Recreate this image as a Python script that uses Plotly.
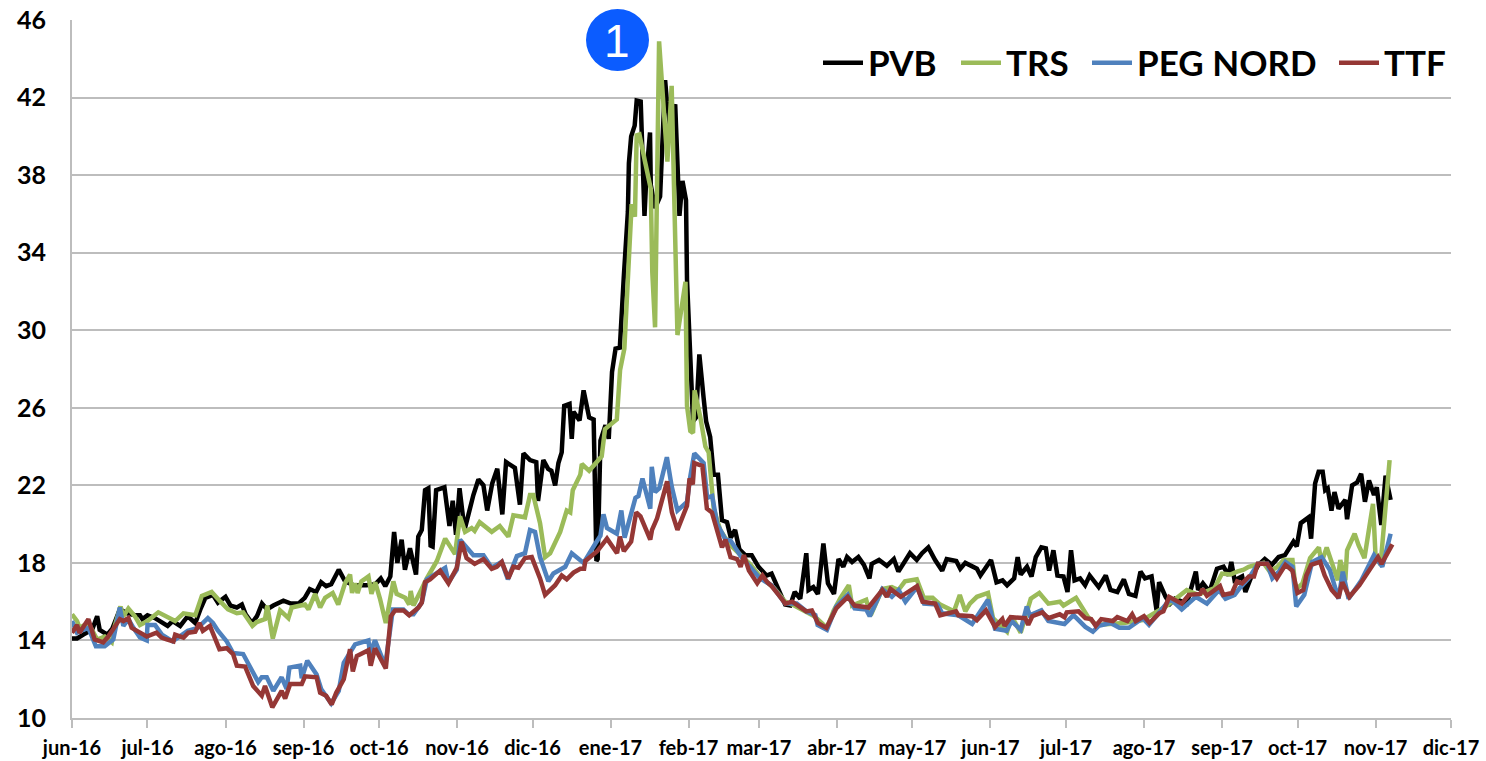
import pandas as pd
import plotly.graph_objects as go

START = pd.Timestamp("2016-06-01")
months = ["2016-06-01","2016-07-01","2016-08-01","2016-09-01","2016-10-01","2016-11-01","2016-12-01",
          "2017-01-01","2017-02-01","2017-03-01","2017-04-01","2017-05-01","2017-06-01","2017-07-01",
          "2017-08-01","2017-09-01","2017-10-01","2017-11-01","2017-12-01"]
month_labels = ["jun-16","jul-16","ago-16","sep-16","oct-16","nov-16","dic-16","ene-17","feb-17","mar-17",
                "abr-17","may-17","jun-17","jul-17","ago-17","sep-17","oct-17","nov-17","dic-17"]
y_ticks = [10,14,18,22,26,30,34,38,42,46]

# (days since 1 Jun 2016, EUR/MWh)
pvb_days = [0,2,4.5,8,10,11,14,16,19,22,25,27,28,30,33,38,40,43,46,49,51,53,56,58,61,63,65.5,67.5,69,71.5,73.5,75.5,77.5,80,84,87,90,92.5,94.5,97,99,101,103,106,108.5,112,117,120.5,122.7,124.5,126.5,128,129.3,131,132.3,134.3,136.7,137.6,139,140.3,141.6,142.5,143.3,144.7,148,150,151.3,152.6,154,156,159.5,161.5,163.5,165,167,169,171,172.5,176,178,179.4,182,184.5,185.2,187.3,189.2,190.5,192,193.3,194.6,195.6,197.7,198.6,199.3,201.7,203.3,205.5,207.3,208.4,208.9,210,212,213.3,214.6,216,217.7,219.3,220.9,221.3,222.2,223.6,224.4,226,227.5,228.3,229.7,230,231.7,233.7,235.7,236.4,237.7,239.7,241.4,242.6,244,244.4,245.7,246.8,248,249.3,251,252,253.6,255,256.7,258.3,260.3,261.8,263.5,265.2,267.5,270.1,272.8,276,278,280.8,283.4,285.4,287.2,289.4,291.8,292.7,294.6,296.4,298.6,300.4,302.8,304.6,306.5,308,310,312.5,314.7,316.9,317.8,320.7,323.8,326.6,328.4,333,335.7,337.8,340.3,343,345.8,347.6,351.4,353,355,359.6,361,365.2,367.4,369.8,371.6,374.4,375.8,377,379.5,381.3,383,385.2,387,388.3,390,391.6,394,395.6,397,398.4,400.6,402.6,404.4,408,410.8,412.7,415.4,418,420,422.6,424.6,426.4,429,431,432,434.6,436.4,438.3,443,446.6,447.5,449.4,452,455,457.6,459.6,460.7,462,465,466.3,468.7,471.5,474,476.8,479.5,482,484,485.4,486.7,488.3,491.4,492.4,494,495.4,497,498,499,500.5,501.7,503.3,506,506.7,508.7,510.7,512.3,513.8,515.4,517.4,518.5,520.3,522,524]
pvb_vals = [14.1,14.1,14.3,14.55,15.25,14.55,14.3,14.6,15.6,15.4,15.3,15.3,15.1,15.3,15.15,14.75,15.0,14.75,15.25,14.9,15.6,16.2,16.35,15.95,16.25,15.8,15.7,15.85,15.35,14.9,15.25,15.9,15.6,15.8,16.05,15.9,15.9,16.2,16.65,16.5,17.0,16.8,16.9,17.65,17.05,16.85,16.85,16.9,17.2,16.8,17.3,19.6,18.0,19.2,17.65,18.75,17.4,19.35,19.7,21.75,21.85,18.9,18.85,21.75,21.9,19.9,21.2,19.45,21.85,19.7,21.5,22.3,22.0,20.7,22.1,22.85,20.5,23.2,22.9,21.0,23.65,23.3,23.2,21.2,23.3,22.85,22.75,22.0,23.15,23.7,26.1,26.2,24.4,25.8,25.35,26.9,25.5,25.4,18.1,18.2,24.3,25.1,24.4,27.85,29.05,29.1,32.8,36.1,38.6,40,40.55,41.85,41.8,35.9,38.1,40.2,37.5,36.3,36.9,42.9,41.8,40.5,41.65,35.9,37.7,36.7,32.6,28.25,25.3,25.5,28.75,26.5,25.3,24.5,22.55,22.55,20.2,20.1,19.3,19.7,18.7,18.4,18.4,17.8,17.35,17.45,16.6,15.85,15.8,16.5,16.15,18.5,16.6,16.75,16.4,19.0,16.95,16.4,18.2,17.8,18.3,18.05,18.3,17.9,17.2,17.95,18.15,17.85,18.2,17.55,18.5,18.15,18.5,18.8,18.15,17.6,18.2,18.1,17.7,18,17.7,17.35,18.15,17.0,17.1,16.85,17.2,18.3,17.4,17.8,17.3,18.3,18.8,18.75,17.6,18.65,17.35,17.3,16.5,18.65,17.1,17.2,16.85,17.35,16.75,17.35,16.6,16.5,17.15,16.4,16.3,17.55,17.2,17.3,15.55,17.0,16.25,15.9,16.15,15.9,17.55,16.6,16.95,16.5,17.7,17.8,17.35,18.05,17.1,17.3,16.5,17.3,17.9,18.2,17.9,18.3,18.4,18.8,19.1,18.85,20.05,20.35,19.25,22.1,22.7,22.7,21.75,21.85,20.7,21.65,20.8,21.25,20.25,22,22.15,22.6,21.15,22.25,21.5,21.9,19.95,22.5,21.25]

trs_days = [0,2,3,6.5,10,12,13,15.8,17,19.3,20.4,22.4,25,27,30,34.3,37.6,41,44.3,49,51.6,55.5,59,62,65.5,68,71.7,73.4,76.7,77.6,79.8,82.7,84,86,87.3,92.6,94,96.6,98.6,100.6,103.6,105.8,108.5,110.5,111.3,112.5,113.5,115,117.8,119,120.5,122.4,124.7,127.7,129,132.4,134,134.6,135.7,141,145,148.3,152.2,154.2,156.2,158.8,160,162,166.8,170,173.4,175.4,180,182,183.3,186,188,190,194,196.6,198,199,202,202.6,205.5,210.5,211.8,216.5,217.8,219.5,222.4,223.7,224.4,225.5,227.7,230,230.6,231.7,233.3,235,236.6,238.3,240.6,243.8,244.4,245.7,246.8,247.4,249.7,251.7,253,255,257.6,261,265.7,269.7,273.4,279,283.4,287,295,300,302.7,305.4,308.7,310,315.6,317.4,322,325.8,328.4,331,335.7,338.5,342,345,350.5,352.8,355,356.8,359.6,364,366,371.6,373.4,377,381,384.4,388,392.6,394,399,403.8,407,418,425.4,434.6,443,447.5,454,457,460.3,463,465.6,467.6,470,473.5,476,479,481.5,485,486.3,489,492,495.5,496.5,498.6,503,504,506,506.7,509.7,511.3,513.6,517,518,520,523.6]
trs_vals = [15.35,15.0,14.65,14.9,14.05,14.15,14.2,13.9,14.75,15.75,15.25,15.65,15.25,14.8,15,15.45,15.25,15.0,15.4,15.3,16.3,16.5,16.0,15.6,15.4,15.45,14.75,14.95,15.1,15.8,14.1,15.55,15.4,15.15,15.7,15.85,15.6,16.4,15.7,16.2,16.45,15.85,16.95,17.4,16.45,16.95,16.45,17.05,17.3,16.4,17,16.15,14.9,17.05,16.4,16.2,15.85,16.55,15.8,17.2,18.1,19.25,18.45,20.4,19.6,19.8,19.65,20.1,19.6,19.9,19.35,20.45,20.35,21.5,21.5,20.05,18.3,18.5,19.6,20.7,20.6,21.75,22.55,23.1,22.75,23.5,24.9,25.4,27.95,29.05,36.5,35.85,40.05,40.1,38.7,37.3,33,30.15,44.9,41.45,38.7,42.6,29.75,32.5,26.1,24.8,24.7,26.9,25.5,24.0,23.7,20.8,19.7,19,18.4,17.9,17.3,16.7,16,15.8,15.25,14.65,15.55,16.2,16.85,15.8,16.1,15.3,16.65,16.75,16.6,17.05,17.15,16.2,16.2,15.85,15.5,16.35,15.5,15.9,16.25,16.45,15.15,14.45,15.25,14.4,16.15,16.45,15.9,16,15.8,16.2,15.2,14.8,14.9,15.05,15.75,16.6,16.35,16.7,17.45,17.4,17.55,17.65,17.8,17.9,18.0,17.55,17.8,18.15,18.15,16.6,16.95,18.25,18.8,18,18.8,17.1,18.15,17.1,18.65,19.5,18.9,18.25,21.05,18.4,17.9,23.3]

peg_days = [0,2,4.5,6.5,9.5,13,16.4,19,20.4,22.4,24.4,27,29.7,30,33,35.7,40,46,50,54,56,58,61.5,64,68,72,74,75.4,77.4,80,83.3,85.3,86.4,90.7,91.3,93.5,97.2,99,103,106,108,112.5,117.8,118.4,120.4,124.5,127.5,131.7,133.7,135.7,139,141,148.3,149.6,152.9,154.2,159.5,163.5,166.8,170.8,173.2,176.8,180,182,184,186,189.3,191.3,196,198.6,203.3,208,210,211.2,212.6,216.5,218.3,219.6,223.9,225.1,226.7,229.8,230.4,231.7,233.4,236.4,238.3,240.6,244.4,245.7,247.3,251,252.4,254.4,256.4,259.7,261.7,265.5,270.8,273.4,278,283.4,288,291.8,295.4,296.3,300,303.7,308.3,311,315.6,317,322,325.8,328.5,331.2,335.8,338.6,344,345.8,352.2,357.7,364,366.8,371.4,373.4,377,379.4,380.6,385.2,388,394.4,398,402.7,405.7,408,412.7,416.2,420,422.7,425.5,428,433,436.5,441,446.6,451,455.8,458.4,462,464,467.6,471.3,475,477,479.6,482.2,485,486.5,489.7,492.8,496.6,499.8,503.3,505,507.3,512.4,517.4,520.7,524]
peg_vals = [15.0,14.4,14.55,14.65,13.7,13.7,14.05,15.7,14.75,15.1,14.65,14.15,14.0,14.8,14.8,14.3,13.95,14.5,14.65,15.15,14.9,14.5,13.95,13.35,13.3,12.35,11.85,12.1,12.1,11.4,12.1,11.5,12.6,12.7,12.05,12.95,12.25,11.5,10.75,11.4,12.85,13.8,14,13.35,14,12.7,15.6,15.6,15.35,15.35,15.95,17.15,17.75,17,17.65,19.2,18.4,18.4,17.75,18.05,17.15,18.35,18.5,19.7,19.6,18.3,17.05,17.45,17.8,18.5,18,19,19.4,20.5,19.8,19.5,20.7,19.3,21.35,21.45,22.35,20.8,22.95,21.65,21.85,23.45,21.95,20.7,21.15,22.45,23.65,23.15,21.35,21.45,20,19.2,19.15,18.4,17.65,17.2,16.85,15.9,15.9,15.5,15.3,14.8,14.55,15.75,16.35,15.65,15.6,15.25,16.65,16.25,16.6,16,16.75,15.9,15.85,15.4,15.3,14.85,16.1,14.6,14.5,15,14.55,15.75,15.3,15.55,15,14.85,15.3,14.7,14.45,14.75,14.9,14.65,14.65,14.9,15.15,14.8,15.6,16.15,15.6,16.25,15.9,16.6,16.15,16.35,16.7,17.2,17.95,17.95,17.2,17.55,18.05,17.8,15.75,16.35,18.05,18.3,17.65,16.15,17.55,16.15,17.1,18.4,17.8,19.5]

ttf_days = [0,2,3,6.5,9,12.4,14.4,19,20.4,22.4,23.7,27,29.7,33.6,35.6,37.6,40.3,41,44.3,46.2,49,50.6,52,54.8,58.6,61.5,64,65.5,68.8,72,75.4,76.7,79.6,83.3,84.7,86.7,91.3,92.6,97.2,98.6,101,103.2,105,108,110.5,111.6,113.2,117.8,118.7,120.4,124.7,126.7,128.4,131.7,134,137.7,139,140.3,142.3,146.3,149.6,152.9,154.8,156.8,160,163.5,166.8,168.8,170.8,173.4,175.4,177.4,180,182.7,186,188,192,194.6,196.6,199.3,202,203.5,204,208.7,212.6,216.6,217.7,219.3,222.2,224.2,225.9,229.8,230.5,232.5,236.5,238.4,240.6,244.4,245.4,246.7,247.3,250.5,252.3,254.3,256.2,258.3,259.7,261.7,264.3,265.7,267,269,272.3,274.4,276.3,278,280.8,283.5,286.2,291.8,294,296.4,299.8,303.7,308.3,311,316.5,322,323.8,325.3,329.3,335.8,338,343,345,351.3,352.2,357.7,359.6,363.2,366.8,369.7,370.6,373,378.8,380,381.6,385.6,388,392.5,394.4,395.3,400,402.7,405,406.8,409,413.6,415.4,419.4,421.3,422.7,426,428.2,432,433.7,436,441,443.8,448.3,449.3,451,456.2,457.5,461,463,465,467.7,469.7,471.2,475,478.8,482.2,485,487,489.3,490.5,492.4,496,497.8,500.6,503.3,504.8,507.6,511.6,516.2,519,520.4,524.7]
ttf_vals = [14.4,14.8,14.4,15.1,14.05,13.9,14.2,15.1,15,15.15,14.65,14.4,14.2,14.4,14.15,14.05,13.95,14.3,14.15,14.4,14.45,14.9,14.5,14.75,13.55,13.6,13.3,12.7,12.65,11.65,11.15,11.65,10.55,11.4,11,11.75,11.75,12.15,12.1,11.3,11.15,10.7,11.3,12,13.55,12.4,13.2,13.5,12.7,13.6,12.55,15.25,15.55,15.55,15.3,15.7,15.95,17,17.15,17.6,16.95,17.75,19.1,18.25,17.95,18.2,17.7,17.8,18.05,17.2,17.8,17.75,18.25,18.3,17.2,16.35,16.85,17.35,17.15,17.5,17.7,17.7,18.1,18.6,19.25,18.5,19.35,18.6,19.1,20.6,20.4,19.2,19.7,20.3,22.2,20.6,19.7,20.95,22.35,22.05,23.15,23,20.8,20.6,19.8,18.8,19.2,18.3,18.2,17.8,18.4,17.6,16.95,17.35,17,16.8,16.35,15.9,16,15.5,15.55,14.9,14.65,15.65,16.25,15.8,15.7,16.6,16.25,16.65,16.25,16.8,16,15.9,15.3,15.5,15.3,15.25,15.05,15.55,14.7,15.1,14.75,15.2,15.15,14.8,15.25,15.45,15.15,15.35,15.2,15.45,15.5,15.15,15.1,14.75,15.1,15,15.2,15,15.35,15,15.25,14.9,15.4,15.5,16.25,15.9,16.35,16.4,16.65,16.3,16.8,16.35,16.45,17.05,16.95,17.3,17.3,17.95,17.95,17.2,17.9,17.6,16.45,16.6,17.35,17.9,18.05,17.35,16.6,16.2,17,16.25,16.85,17.7,18.3,17.95,18.95]

series = [("PVB", pvb_days, pvb_vals, "#000000", "legend", 818),
          ("TRS", trs_days, trs_vals, "#9BBB59", "legend2", 956),
          ("PEG NORD", peg_days, peg_vals, "#4F81BD", "legend3", 1087),
          ("TTF", ttf_days, ttf_vals, "#953735", "legend4", 1334)]

FONT = "Lato, 'Open Sans', sans-serif"
PL, PT, PR, PB = 72, 20, 1451, 718
PW, PH = PR - PL, PB - PT

fig = go.Figure()
legends = {}
for name, days, vals, color, leg, leg_px in series:
    x = START + pd.to_timedelta(days, unit="D")
    fig.add_trace(go.Scatter(x=x, y=vals, name=name, mode="lines", legend=leg, showlegend=True,
                             line=dict(color=color, width=4.5, shape="linear")))
    legends[leg] = dict(x=(leg_px - PL) / PW, xanchor="left", y=(PB - 63) / PH, yanchor="middle",
                        itemwidth=40, bgcolor="rgba(0,0,0,0)",
                        font=dict(size=35, family=FONT, color="black", weight="bold"))

fig.update_layout(
    width=1486, height=761, paper_bgcolor="white", plot_bgcolor="white", showlegend=True,
    margin=dict(l=PL, r=1486 - PR, t=PT, b=761 - PB, autoexpand=False),
    font=dict(family=FONT, color="black"),
    xaxis=dict(type="date", range=[months[0], months[-1]], tickvals=months, ticktext=month_labels,
               ticks="outside", ticklen=8, tickwidth=1.5, tickcolor="#BDBDBD", showgrid=False,
               showline=True, linecolor="#BDBDBD", linewidth=2, tickangle=0, ticklabelstandoff=3,
               tickfont=dict(size=20, family=FONT, color="black", weight="bold")),
    yaxis=dict(range=[10, 46], tickvals=y_ticks, showgrid=True, gridcolor="#BDBDBD", gridwidth=1.5,
               showline=True, linecolor="#BDBDBD", linewidth=2, zeroline=False, ticks="", ticklabelstandoff=19,
               tickfont=dict(size=25, family=FONT, color="black", weight="bold")),
    shapes=[dict(type="circle", xref="paper", yref="paper", layer="above", fillcolor="#0B5CFF",
                 line=dict(width=0), x0=(586-PL)/PW, x1=(649-PL)/PW,
                 y0=(PB-71)/PH, y1=(PB-9)/PH)],
    annotations=[dict(text="1", xref="paper", yref="paper", x=(617-PL)/PW, y=(PB-41)/PH,
                      xanchor="center", yanchor="middle",
                      showarrow=False, font=dict(size=46, color="white", family="Liberation Sans"))],
    **legends,
)
fig.write_html("out.html", config=dict(displayModeBar=False),
               post_script="document.body.style.margin='0';document.body.style.overflow='hidden';")
